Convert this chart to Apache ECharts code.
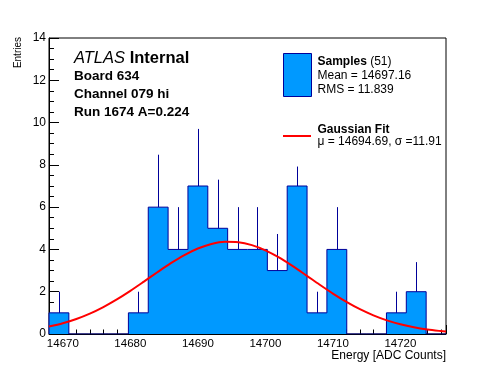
<!DOCTYPE html>
<html><head><meta charset="utf-8">
<script src="https://cdn.jsdelivr.net/npm/echarts@6/dist/echarts.min.js"></script>
<style>html,body{margin:0;padding:0;background:#fff;} #c{width:496px;height:372px;}</style>
</head><body><div id="c"></div>
<script>
// ---- data ----
const binEdges = [14667.95, 14670.89, 14673.83, 14676.77, 14679.71, 14682.65, 14685.59,
  14688.53, 14691.47, 14694.41, 14697.35, 14700.29, 14703.23, 14706.17, 14709.11,
  14712.05, 14714.99, 14717.93, 14720.87, 14723.81, 14726.75];
const counts = [1, 0, 0, 0, 1, 6, 4, 7, 5, 4, 4, 3, 7, 1, 4, 0, 0, 1, 2, 0];
const errUp  = [1, 0, 0, 0, 1, 2.48, 2, 2.7, 2.3, 2, 2, 1.73, 0.92, 1, 2, 0, 0, 1, 1.4, 0];
const fitX = [14667.95, 14670, 14672, 14674, 14676, 14678, 14680, 14682, 14684, 14686,
  14688, 14690, 14692, 14694, 14696, 14698, 14700, 14702, 14704, 14706, 14708, 14710,
  14712, 14714, 14716, 14718, 14720, 14722, 14724, 14726, 14726.75];
const fitY = [0.351, 0.510, 0.712, 0.966, 1.276, 1.637, 2.042, 2.477, 2.921, 3.349,
  3.732, 4.044, 4.260, 4.363, 4.344, 4.204, 3.957, 3.620, 3.219, 2.784, 2.340, 1.913,
  1.520, 1.174, 0.882, 0.644, 0.457, 0.315, 0.211, 0.138, 0.117];
const headerLines = ['Board 634', 'Channel 079 hi', 'Run 1674 A=0.224'];
const legendSamples = ['Mean = 14697.16', 'RMS = 11.839'];
const legendFit = '\u03bc = 14694.69, \u03c3 =11.91';

const FONT = '"Liberation Sans", Arial, Helvetica, sans-serif';
const FILL = '#0099ff', EDGE = '#000099';

const stepData = [[binEdges[0], 0]];
counts.forEach((v, i) => stepData.push([binEdges[i], v]));
stepData.push([binEdges[binEdges.length - 1], counts[counts.length - 1]]);
stepData.push([binEdges[binEdges.length - 1], 0]);
const errData = counts.map((v, i) => [(binEdges[i] + binEdges[i + 1]) / 2, v, errUp[i]]);
const fitData = fitX.map((x, i) => [x, fitY[i]]);

const chart = echarts.init(document.getElementById('c'), null, {renderer: 'canvas'});
const txt = (x, y, text, font, extra) => ({
  type: 'text', x: x, y: y, z: 100,
  style: Object.assign({text: text, fill: '#000', font: font, align: 'left', verticalAlign: 'middle'}, extra || {})
});

chart.setOption({
  animation: false,
  grid: {left: 49, right: 50, top: 38, bottom: 38, show: true, borderColor: '#000', borderWidth: 1, backgroundColor: 'transparent'},
  xAxis: {
    type: 'value', min: binEdges[0], max: binEdges[binEdges.length - 1], splitNumber: 5,
    axisLine: {show: true, onZero: false, lineStyle: {color: '#000', width: 1}},
    axisTick: {show: true, inside: true, length: 9, lineStyle: {color: '#000'}},
    minorTick: {show: true, splitNumber: 5, length: 4.5, lineStyle: {color: '#000'}},
    splitLine: {show: false},
    axisLabel: {showMinLabel: false, showMaxLabel: false, color: '#000', fontSize: 11.5, fontFamily: FONT, margin: 4,
      formatter: function (v) { return String(Math.round(v)); }}
  },
  yAxis: {
    type: 'value', min: 0, max: 14, interval: 2,
    axisLine: {show: true, lineStyle: {color: '#000', width: 1}},
    axisTick: {show: true, inside: true, length: 10, lineStyle: {color: '#000'}},
    minorTick: {show: true, splitNumber: 4, length: 5, lineStyle: {color: '#000'}},
    splitLine: {show: false},
    axisLabel: {color: '#000', fontSize: 12, fontFamily: FONT, margin: 3}
  },
  series: [
    {
      type: 'line', z: 2, step: 'end', data: stepData, showSymbol: false, symbol: 'none',
      lineStyle: {color: EDGE, width: 1}, areaStyle: {color: FILL, opacity: 1, origin: 'start'}
    },
    {
      type: 'custom', z: 3, data: errData,
      encode: {x: 0, y: 1},
      renderItem: function (params, api) {
        const e = api.value(2);
        if (e <= 0) return null;
        const a = api.coord([api.value(0), api.value(1)]);
        const b = api.coord([api.value(0), api.value(1) + e]);
        const x = Math.round(a[0]) + 0.5;
        return {type: 'line', shape: {x1: x, y1: a[1], x2: x, y2: b[1]},
          style: {stroke: EDGE, lineWidth: 1}};
      }
    },
    {
      type: 'line', z: 4, data: fitData, smooth: 0.3, showSymbol: false, symbol: 'none',
      lineStyle: {color: '#ff0000', width: 2}
    }
  ],
  graphic: [
    txt(74, 58, '{i|ATLAS} {b|Internal}', '16.5px ' + FONT, {
      rich: {i: {fontStyle: 'italic', fontSize: 16.5, fontFamily: FONT, fill: '#000'},
             b: {fontWeight: 'bold', fontSize: 16.5, fontFamily: FONT, fill: '#000'}}
    }),
    txt(74, 76.5, headerLines[0], 'bold 13.5px ' + FONT),
    txt(74, 94.5, headerLines[1], 'bold 13.5px ' + FONT),
    txt(74, 112.5, headerLines[2], 'bold 13.5px ' + FONT),
    {type: 'rect', z: 100, shape: {x: 283.5, y: 53.5, width: 28, height: 43}, style: {fill: FILL, stroke: EDGE, lineWidth: 1}},
    txt(317.5, 61.5, '{b|Samples} {r|(51)}', '12px ' + FONT, {
      rich: {b: {fontWeight: 'bold', fontSize: 12, fontFamily: FONT, fill: '#000'},
             r: {fontSize: 12, fontFamily: FONT, fill: '#000'}}
    }),
    txt(317.5, 76, legendSamples[0], '12px ' + FONT),
    txt(317.5, 90, legendSamples[1], '12px ' + FONT),
    {type: 'line', z: 100, shape: {x1: 283, y1: 136, x2: 311, y2: 136}, style: {stroke: '#ff0000', lineWidth: 2}},
    txt(317.5, 129.5, 'Gaussian Fit', 'bold 12px ' + FONT),
    txt(317.5, 141.5, legendFit, '12px ' + FONT),
    txt(446, 355.5, 'Energy [ADC Counts]', '12px ' + FONT, {align: 'right'}),
    {type: 'text', z: 100, x: 18.5, y: 37, rotation: Math.PI / 2,
      style: {text: 'Entries', fill: '#000', font: '10px ' + FONT, align: 'right', verticalAlign: 'middle'}}
  ]
});
</script>
</body></html>
